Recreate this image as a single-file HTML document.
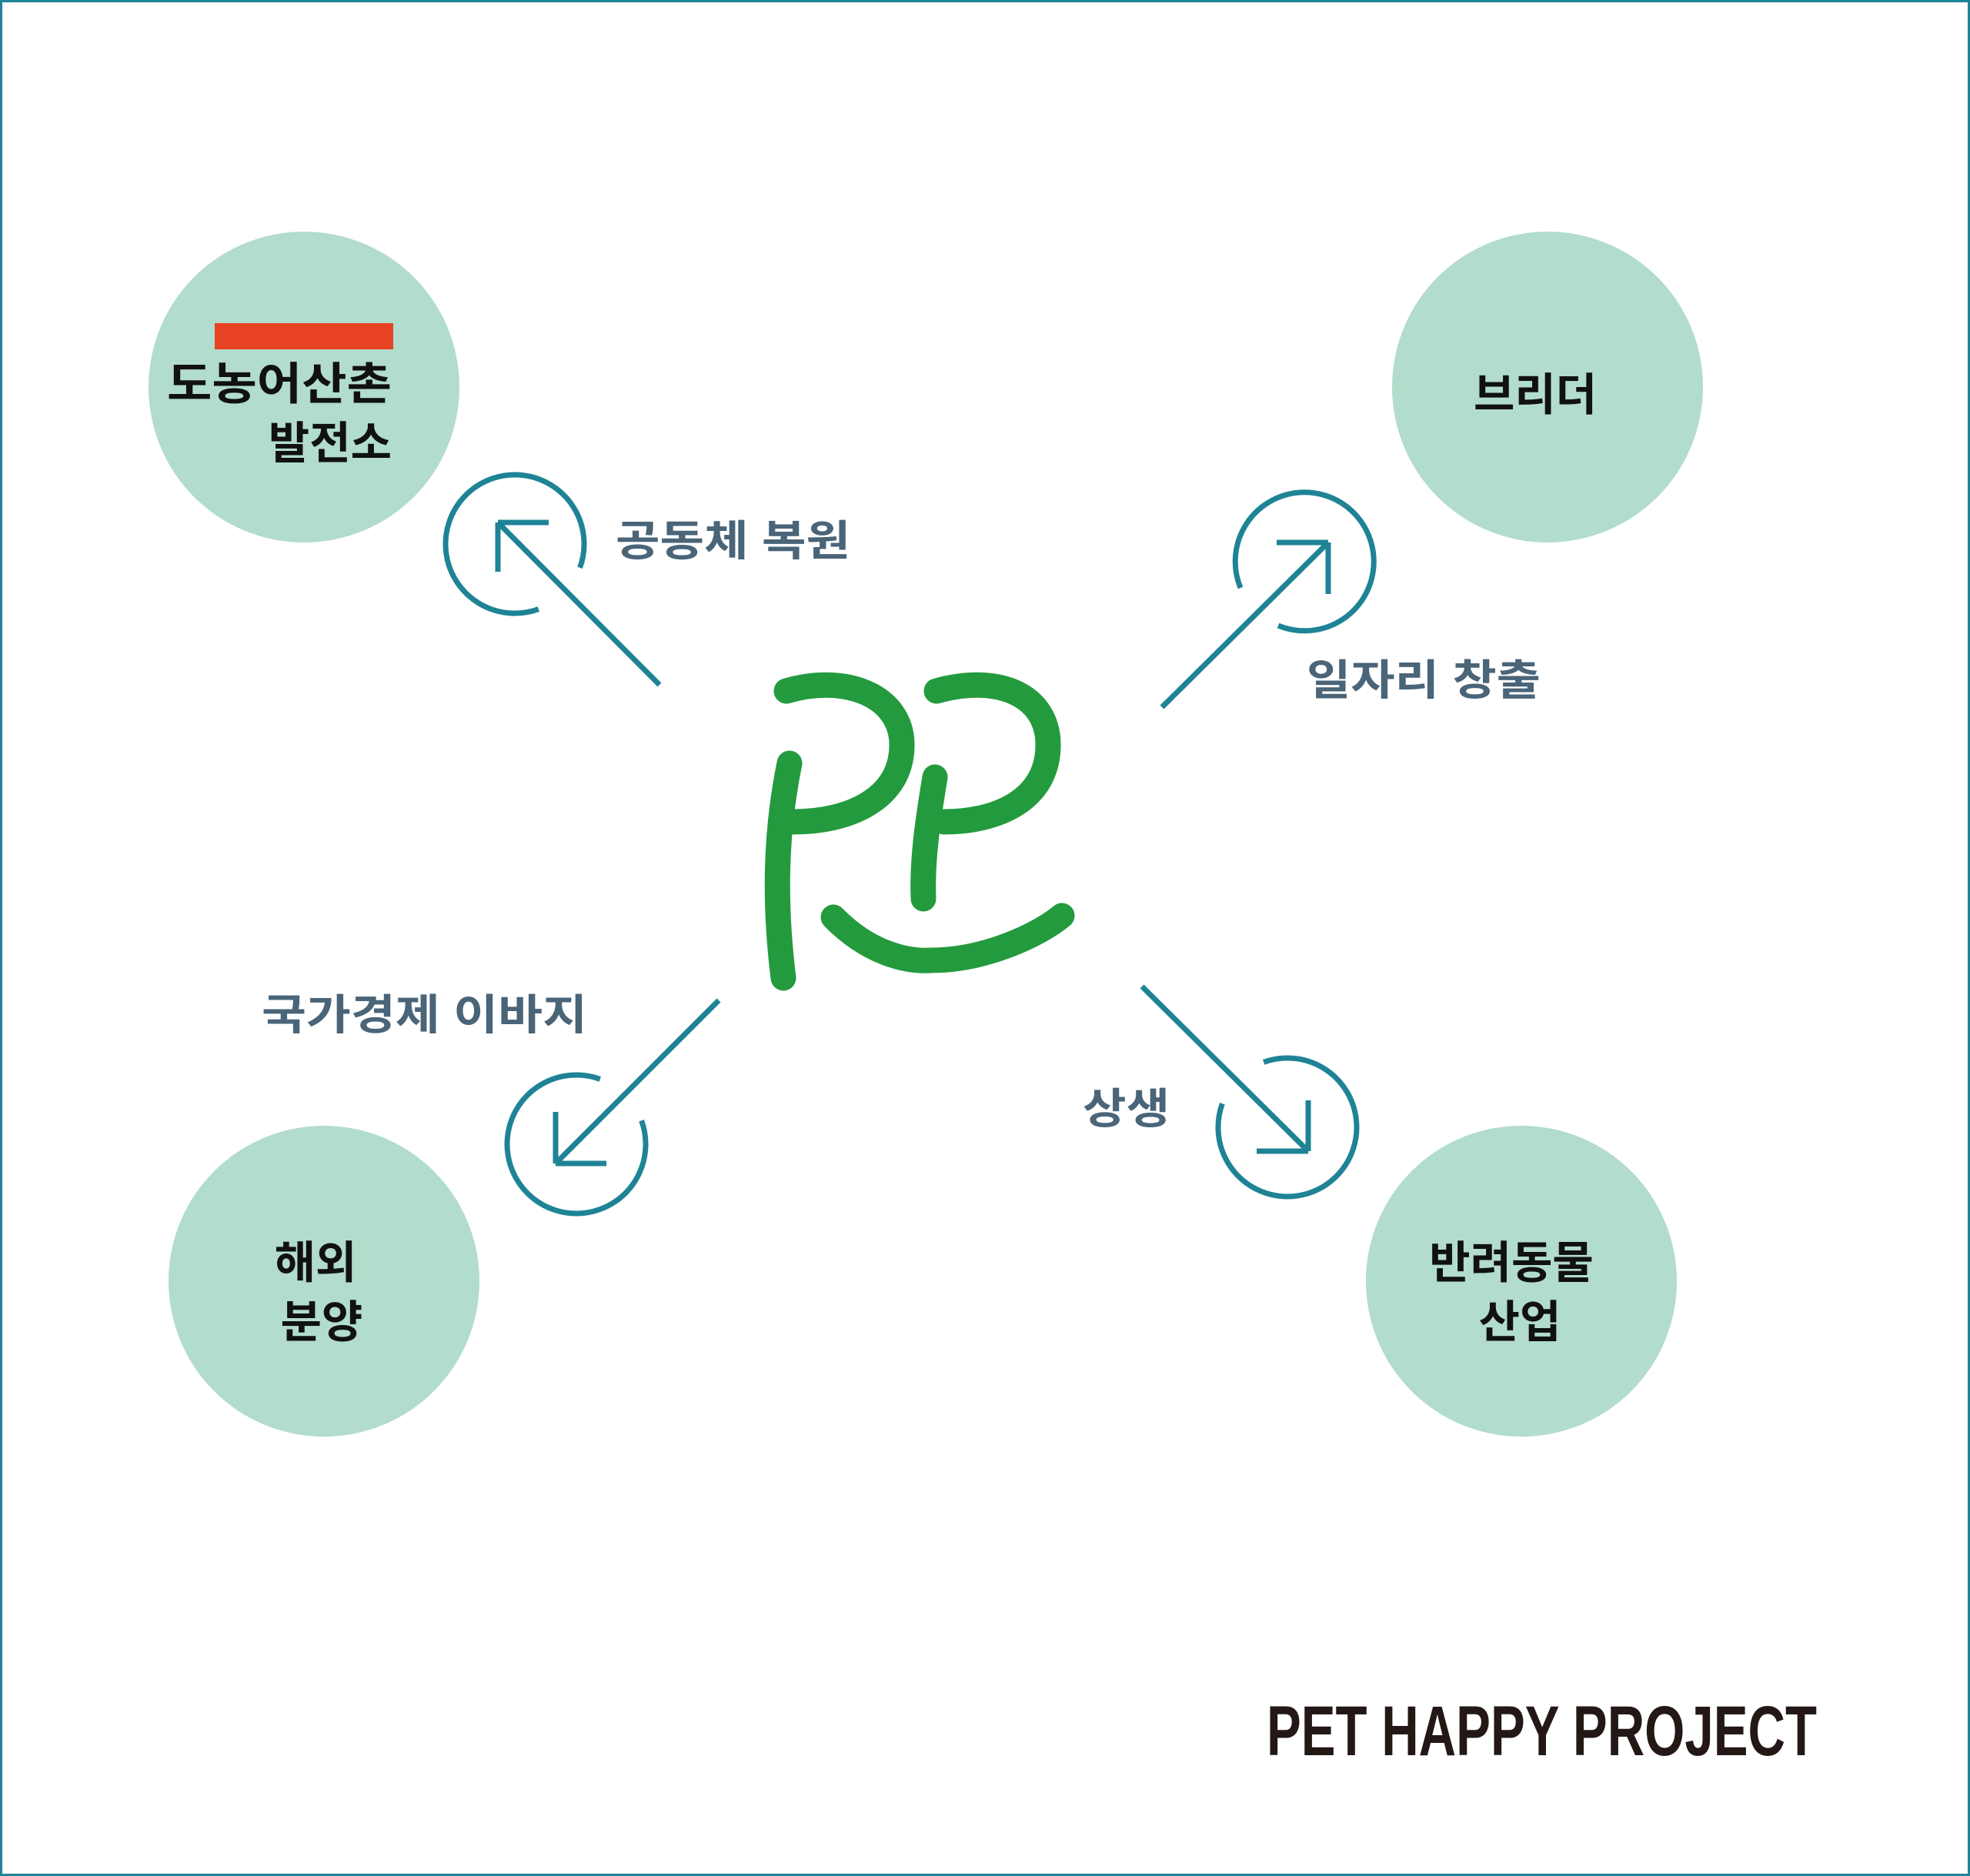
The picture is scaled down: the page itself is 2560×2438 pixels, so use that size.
<!DOCTYPE html>
<html><head><meta charset="utf-8"><style>
html,body{margin:0;padding:0;background:#fff;}
svg{display:block;}
text{font-family:"Liberation Sans","Noto Sans CJK KR",sans-serif;}
</style></head><body>
<svg width="2560" height="2438" viewBox="0 0 2560 2438" xmlns="http://www.w3.org/2000/svg">
<rect x="1.5" y="1.5" width="2557" height="2435" fill="#fff" stroke="#1f8396" stroke-width="3"/>
<g fill="#b2dccb">
<circle cx="395" cy="503" r="202"/>
<circle cx="2011" cy="503" r="202"/>
<circle cx="421" cy="1665" r="202"/>
<circle cx="1977" cy="1665" r="202"/>
</g>
<rect x="279" y="420" width="232" height="34" fill="#e84324"/>
<g fill="#111" font-weight="bold" font-size="58">
<text x="217" y="519" textLength="292" lengthAdjust="spacingAndGlyphs">도농어산촌</text>
<text x="509" y="596" text-anchor="end">발전소</text>
<text x="1995" y="533" text-anchor="middle">브리더</text>
<text x="410" y="1661" text-anchor="middle">해외</text>
<text x="418" y="1738" text-anchor="middle">분양</text>
<text x="1964" y="1661" text-anchor="middle">반려동물</text>
<text x="1975" y="1738" text-anchor="middle">산업</text>
</g>
<g fill="#4a6478" font-size="55" font-weight="bold">
<text x="800" y="722" textLength="305" lengthAdjust="spacingAndGlyphs">공동체 복원</text>
<text x="1698" y="903" textLength="304" lengthAdjust="spacingAndGlyphs">일자리 창출</text>
<text x="340" y="1338" textLength="423" lengthAdjust="spacingAndGlyphs">국가경제 이바지</text>
<text x="1407" y="1460" textLength="113" lengthAdjust="spacingAndGlyphs">상생</text>
</g>
<g fill="none" stroke="#1f8396" stroke-width="7">
<path d="M699.8 791.6 A90 90 0 1 1 753.6 737.8"/>
<path d="M857 890 L647 679 M647 679 H713 M647 679 V743"/>
<path d="M 1612 764 A 90 90 0 1 1 1661 813"/>
<path d="M1510 919 L1726 705 M1726 705 H1659 M1726 705 V772"/>
<path d="M833.6 1456.2 A90 90 0 1 1 779.8 1402.4"/>
<path d="M934 1300 L722 1512 M722 1512 H788 M722 1512 V1445"/>
<path d="M1642.2 1380.4 A90 90 0 1 1 1588.4 1434.2"/>
<path d="M1484 1282 L1700 1496 M1700 1496 H1633 M1700 1496 V1430"/>
</g>
<g fill="none" stroke="#239a3e" stroke-width="33" stroke-linecap="round">
<path d="M1022 898 C1100 875 1172 905 1172 968 C1172 1040 1100 1068 1032 1068"/>
<path d="M1026 992 C1012 1060 1003 1150 1018 1271"/>
<path d="M1217 898 C1300 875 1362 905 1362 968 C1362 1040 1295 1068 1227 1068"/>
<path d="M1215 1010 C1205 1070 1198 1120 1200 1168"/>
<path d="M1083 1192 C1130 1240 1180 1250 1210 1248 C1280 1248 1350 1215 1380 1190"/>
</g>
<text x="1646" y="2281" font-size="92" font-weight="bold" fill="#231815" textLength="715" lengthAdjust="spacingAndGlyphs">PET HAPPY PROJECT</text>
</svg>
</body></html>
